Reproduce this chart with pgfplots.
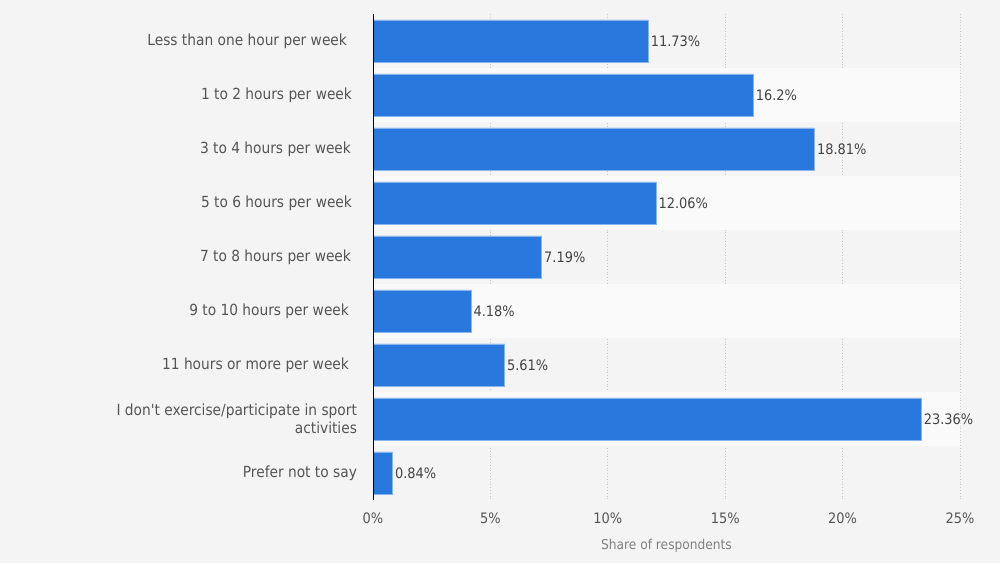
\documentclass[border=0pt]{standalone}
\usepackage{pgfplots}
\pgfplotsset{compat=1.18}
\usepackage{fontspec}
\setmainfont{DejaVu Sans Condensed}[Ligatures=TeXOff]
\definecolor{bg}{HTML}{F4F4F4}
\definecolor{band}{HTML}{FAFAFA}
\definecolor{barc}{HTML}{2878DD}
\definecolor{lab}{HTML}{555555}
\definecolor{val}{HTML}{444444}
\definecolor{xl}{HTML}{808080}
\begin{document}
\begin{tikzpicture}[x=1pt,y=1pt]
\fill[bg] (0,0) rectangle (500,281.5);
\begin{axis}[at={(186.5pt,31.5pt)}, anchor=south west, scale only axis,
  width=293.5pt, height=243pt,
  xmin=0, xmax=25, ymin=-0.5, ymax=8.5, y dir=reverse,
  axis line style={draw=none},
  major tick length=0pt,
  xtick={0,5,10,15,20,25},
  /pgf/number format/assume math mode=true,
  xticklabel={\pgfmathprintnumber{\tick}\%},
  xticklabel style={font=\fontsize{7.2}{8}\selectfont, text=lab, yshift=-3pt},
  ytick={0,...,8},
  yticklabels={Less than one hour per week\hspace*{5pt}, 1 to 2 hours per week\hspace*{2.5pt}, 3 to 4 hours per week\hspace*{3pt}, 5 to 6 hours per week\hspace*{2.5pt}, 7 to 8 hours per week\hspace*{3pt}, 9 to 10 hours per week\hspace*{4pt}, 11 hours or more per week\hspace*{4pt}, {I don't exercise/participate in sport\\activities}, Prefer not to say},
  yticklabel style={font=\fontsize{7.65}{9}\selectfont, text=lab, align=right, xshift=-4.5pt},
  xmajorgrids, grid style={densely dotted, color=black!22, line width=0.5pt},
  xlabel={Share of respondents},
  xlabel style={font=\fontsize{6.8}{8}\selectfont, text=xl, yshift=-0.5pt},
]
\addplot[xbar, bar width=1, bar shift=0pt, fill=band, draw=none, forget plot]
  coordinates {(25,1) (25,3) (25,5) (25,7)};
\addplot[xbar, bar width=0.78, bar shift=0pt, fill=barc, draw=barc!55!white, line width=0.4pt,
  point meta=explicit symbolic, nodes near coords,
  nodes near coords style={font=\fontsize{7.2}{8}\selectfont, text=val, anchor=west, inner sep=1pt}]
  coordinates {
  (11.73,0) [11.73\%]
  (16.2,1) [16.2\%]
  (18.81,2) [18.81\%]
  (12.06,3) [12.06\%]
  (7.19,4) [7.19\%]
  (4.18,5) [4.18\%]
  (5.61,6) [5.61\%]
  (23.36,7) [23.36\%]
  (0.84,8) [0.84\%]
  };
\draw[black, line width=0.6pt] (axis cs:0,-0.5) -- (axis cs:0,8.5);
\end{axis}
\end{tikzpicture}
\end{document}
